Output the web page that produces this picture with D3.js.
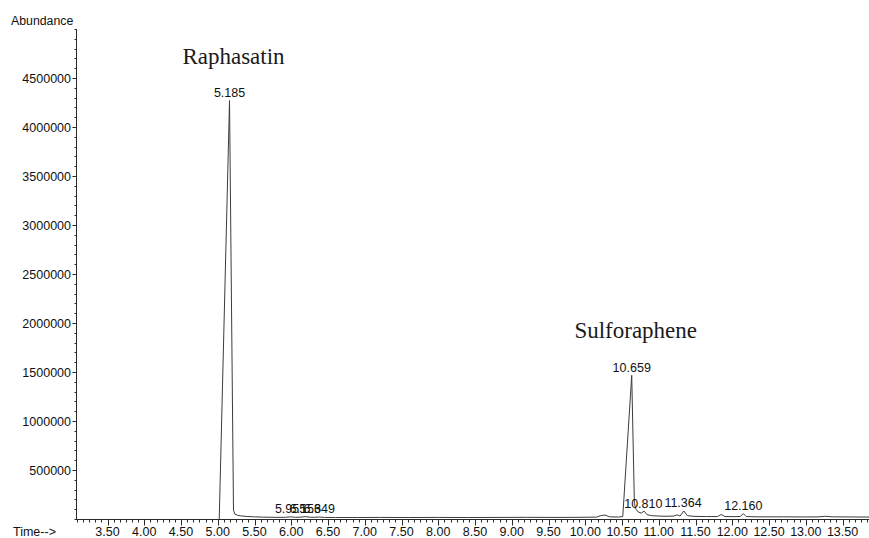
<!DOCTYPE html>
<html><head><meta charset="utf-8">
<script src="https://cdn.jsdelivr.net/npm/d3@7"></script>
<style>body{margin:0;background:#fff}svg{display:block}</style>
</head><body>
<svg id="c" width="869" height="538"></svg>
<script>
// ---- data ----
const traceTime = [5.02, 5.16, 5.214, 5.232, 5.27, 5.32, 5.40, 5.50, 5.62, 5.78, 5.92, 5.99, 6.06, 6.13, 6.19, 6.26, 6.32, 6.38, 6.45, 6.6, 6.9, 7.2, 7.6, 8.0, 8.4, 8.8, 9.2, 9.6, 9.9, 10.15, 10.22, 10.27, 10.33, 10.45, 10.51, 10.632, 10.668, 10.69, 10.72, 10.76, 10.80, 10.84, 10.9, 11.0, 11.1, 11.2, 11.25, 11.29, 11.34, 11.39, 11.48, 11.65, 11.8, 11.85, 11.9, 12.05, 12.11, 12.15, 12.19, 12.35, 12.7, 13.0, 13.18, 13.27, 13.36, 13.6, 13.86];
const traceAbundance = [0, 4270000, 90000, 50000, 38000, 31000, 26000, 22000, 19000, 17000, 17000, 22000, 17000, 19000, 24000, 18000, 17000, 21000, 16000, 15000, 15000, 16000, 15000, 16000, 15000, 16000, 17000, 16000, 17000, 19000, 36000, 40000, 22000, 20000, 25000, 1466000, 160000, 100000, 72000, 60000, 80000, 45000, 34000, 30000, 28000, 30000, 42000, 30000, 82000, 34000, 27000, 25000, 25000, 46000, 25000, 24000, 26000, 55000, 25000, 22000, 22000, 21000, 22000, 28000, 22000, 21000, 20000];
const peakLabels = ["5.185", "5.955", "6.156", "6.349", "10.659", "10.810", "11.364", "12.160"];
const peakTimes = [5.16, 5.99, 6.19, 6.38, 10.632, 10.79, 11.33, 12.15];
const peakAbundance = [4270000, 22000, 24000, 21000, 1466000, 80000, 82000, 55000];
const compoundNames = ["Raphasatin", "Sulforaphene"];
const compoundPeakIndex = [0, 4];
const xTickValues = d3.range(3.5, 13.51, 0.5);
const yTickValues = d3.range(500000, 4500001, 500000);

// ---- layout ----
const svg = d3.select("#c");
const x = d3.scaleLinear().domain([3.085, 13.86]).range([77, 869]);
const y = d3.scaleLinear().domain([0, 5000000]).range([519, 29]);
const axisColor = "#2a2a2a";
const sans = "'Liberation Sans', Arial, sans-serif";

// y axis
const gy = svg.append("g").attr("transform", "translate(76.5,0)");
gy.append("line").attr("y1", y(5000000)).attr("y2", y(0)).attr("stroke", axisColor);
gy.selectAll("line.minor").data(d3.range(0, 5000001, 100000)).join("line")
  .attr("class", "minor").attr("x1", -2).attr("x2", 0)
  .attr("y1", d => Math.round(y(d)) + 0.5).attr("y2", d => Math.round(y(d)) + 0.5)
  .attr("stroke", axisColor);
gy.selectAll("line.major").data(yTickValues).join("line")
  .attr("class", "major").attr("x1", -4).attr("x2", 0)
  .attr("y1", d => Math.round(y(d)) + 0.5).attr("y2", d => Math.round(y(d)) + 0.5)
  .attr("stroke", axisColor);
gy.selectAll("text").data(yTickValues).join("text")
  .attr("x", -5.5).attr("y", d => y(d)).attr("dy", "0.36em")
  .attr("text-anchor", "end").attr("font-family", sans).attr("font-size", 12.5)
  .attr("fill", "#111").text(d => d3.format("d")(d));

// x axis
const gx = svg.append("g").attr("transform", "translate(0,519.5)");
gx.append("line").attr("x1", 76).attr("x2", 869).attr("stroke", axisColor);
const minorX = d3.range(37, 167).map(i => i / 12).filter(t => t >= 3.08 && t <= 13.86);
gx.selectAll("line.minor").data(minorX).join("line")
  .attr("class", "minor").attr("y1", 0).attr("y2", 3)
  .attr("x1", d => Math.round(x(d)) + 0.5).attr("x2", d => Math.round(x(d)) + 0.5)
  .attr("stroke", axisColor);
gx.selectAll("line.major").data(xTickValues).join("line")
  .attr("class", "major").attr("y1", 0).attr("y2", 6)
  .attr("x1", d => Math.round(x(d)) + 0.5).attr("x2", d => Math.round(x(d)) + 0.5)
  .attr("stroke", axisColor);
gx.selectAll("text").data(xTickValues).join("text")
  .attr("x", d => x(d)).attr("y", 16.5).attr("text-anchor", "middle")
  .attr("font-family", sans).attr("font-size", 12.5).attr("fill", "#111")
  .text(d => d3.format(".2f")(d));

svg.append("text").attr("x", 13).attr("y", 536).attr("font-family", sans)
  .attr("font-size", 12.5).attr("fill", "#111").text("Time-->");
svg.append("text").attr("x", 11).attr("y", 25).attr("font-family", sans)
  .attr("font-size", 12.3).attr("fill", "#111").text("Abundance");

// trace
const pts = traceTime.map((t, i) => [t, traceAbundance[i]]);
svg.append("path").datum(pts)
  .attr("d", d3.line().x(d => x(d[0])).y(d => y(d[1])))
  .attr("fill", "none").attr("stroke", "#3c3c3c").attr("stroke-width", 1)
  .attr("stroke-linejoin", "round");

// peak labels
svg.selectAll("text.peak").data(peakLabels).join("text")
  .attr("class", "peak")
  .attr("x", (d, i) => x(peakTimes[i]))
  .attr("y", (d, i) => y(peakAbundance[i]) - 3.5)
  .attr("text-anchor", "middle").attr("font-family", sans).attr("font-size", 12.5)
  .attr("fill", "#111").text(d => d);

// compound names
svg.selectAll("text.name").data(compoundNames).join("text")
  .attr("class", "name")
  .attr("x", (d, i) => x(peakTimes[compoundPeakIndex[i]]) + 4)
  .attr("y", (d, i) => y(peakAbundance[compoundPeakIndex[i]]) - 37)
  .attr("text-anchor", "middle").attr("font-family", "'Liberation Serif', 'Times New Roman', serif")
  .attr("font-size", 23).attr("fill", "#1a1a1a").text(d => d);
</script>
</body></html>
